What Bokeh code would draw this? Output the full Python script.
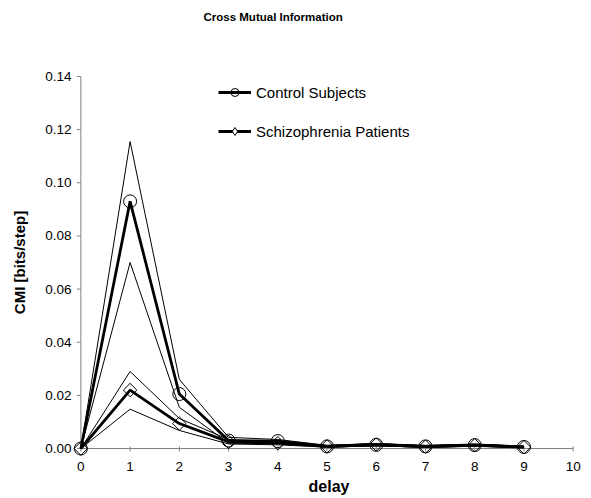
import math
from bokeh.plotting import figure
from bokeh.models import Range1d, FixedTicker, PrintfTickFormatter, Legend, LegendItem, Title
from bokeh.embed import file_html
from bokeh.resources import INLINE

# ---- data ----
delay = [0, 1, 2, 3, 4, 5, 6, 7, 8, 9]
control_mean = [0.0, 0.093, 0.0205, 0.003, 0.0028, 0.0008, 0.0014, 0.0008, 0.0013, 0.0006]
control_upper = [0.0, 0.1155, 0.026, 0.0042, 0.0034, 0.0012, 0.0019, 0.0012, 0.0017, 0.0009]
control_lower = [0.0, 0.070, 0.0155, 0.002, 0.002, 0.0005, 0.001, 0.0005, 0.0009, 0.0004]
schizo_mean = [0.0, 0.022, 0.0094, 0.0025, 0.002, 0.0008, 0.0015, 0.0007, 0.0012, 0.0005]
schizo_upper = [0.0, 0.029, 0.0113, 0.0034, 0.0026, 0.0011, 0.0019, 0.0010, 0.0016, 0.0008]
schizo_lower = [0.0, 0.0148, 0.0068, 0.0017, 0.0014, 0.0005, 0.0011, 0.0004, 0.0009, 0.0003]
x_ticks = [0, 1, 2, 3, 4, 5, 6, 7, 8, 9, 10]
y_ticks = [0.0, 0.02, 0.04, 0.06, 0.08, 0.10, 0.12, 0.14]
title_text = "Cross Mutual Information"

FONT = "Liberation Sans"
AXIS_COLOR = "#808080"

p = figure(width=591, height=498, output_backend="svg", toolbar_location=None,
           x_range=Range1d(-0.17, 10.25), y_range=Range1d(-0.003, 0.143),
           min_border_left=72, min_border_right=6, min_border_bottom=42, min_border_top=68)
p.title.visible = False
p.outline_line_color = None
p.xgrid.visible = False
p.ygrid.visible = False
p.background_fill_color = "white"
p.border_fill_color = "white"

# blank spacer between frame and title, then the title itself
p.add_layout(Title(text=" ", text_font=FONT, text_font_size="38px", standoff=0), "above")
p.add_layout(Title(text=title_text, text_font=FONT, text_font_style="bold",
                   text_font_size="11.5px", align="left", offset=131,
                   vertical_align="top", standoff=0, text_color="black"), "above")

# axes (labels only; lines and ticks drawn at the data origin below)
for ax in (p.xaxis[0], p.yaxis[0]):
    ax.axis_line_color = None
    ax.major_tick_line_color = None
    ax.minor_tick_line_color = None
    ax.major_tick_in = 0
    ax.major_tick_out = 0
    ax.major_label_text_font = FONT
    ax.major_label_text_font_size = "13.5px"
    ax.major_label_text_color = "black"
    ax.axis_label_text_font = FONT
    ax.axis_label_text_font_style = "bold"
    ax.axis_label_text_color = "black"

xa = p.xaxis[0]
xa.ticker = FixedTicker(ticks=x_ticks)
xa.major_label_standoff = 5
xa.axis_label = "delay"
xa.axis_label_text_font_size = "16px"
xa.axis_label_standoff = 4

ya = p.yaxis[0]
ya.ticker = FixedTicker(ticks=y_ticks)
ya.formatter = PrintfTickFormatter(format="%.2f")
ya.major_label_standoff = 1
ya.axis_label = "CMI [bits/step]"
ya.axis_label_text_font_size = "15px"
ya.axis_label_standoff = 14

# axis lines and tick marks at the origin
p.line([x_ticks[0], x_ticks[-1]], [y_ticks[0], y_ticks[0]], line_color=AXIS_COLOR, line_width=1)
p.line([x_ticks[0], x_ticks[0]], [y_ticks[0], y_ticks[-1]], line_color=AXIS_COLOR, line_width=1)
p.ray(x=[x_ticks[0]] * len(y_ticks), y=y_ticks, length=4, length_units="screen",
      angle=math.pi, line_color=AXIS_COLOR, line_width=1)
p.ray(x=x_ticks, y=[y_ticks[0]] * len(x_ticks), length=3, length_units="screen",
      angle=-math.pi / 2, line_color=AXIS_COLOR, line_width=1)
p.ray(x=x_ticks, y=[y_ticks[0]] * len(x_ticks), length=2, length_units="screen",
      angle=math.pi / 2, line_color=AXIS_COLOR, line_width=1)

# band lines (thin)
for ys in (control_upper, control_lower, schizo_upper, schizo_lower):
    p.line(delay, ys, line_color="black", line_width=1)

# mean lines with markers
cl = p.line(delay, control_mean, line_color="black", line_width=2.8)
cs = p.scatter(delay, control_mean, marker="circle", size=13, fill_alpha=0,
               line_color="black", line_width=1)
sl = p.line(delay, schizo_mean, line_color="black", line_width=2.8)
ss = p.scatter(delay, schizo_mean, marker="square", angle=math.pi / 4, size=9.5,
               fill_alpha=0, line_color="black", line_width=1)
# legend-only diamond glyph (legend ignores marker angle)
sd = p.scatter(delay, schizo_mean, marker="diamond", size=11, fill_color="white",
               line_color="black", line_width=1, visible=False)

legend = Legend(items=[LegendItem(label="Control Subjects", renderers=[cl, cs]),
                       LegendItem(label="Schizophrenia Patients", renderers=[sl, sd])],
                location=(146, 315), padding=0, margin=0, spacing=19,
                glyph_width=33, glyph_height=20, label_standoff=5,
                label_text_font=FONT, label_text_font_size="15px",
                label_text_color="black",
                border_line_color=None, background_fill_alpha=0)
p.add_layout(legend)

open("out.html", "w").write(file_html(p, INLINE))
